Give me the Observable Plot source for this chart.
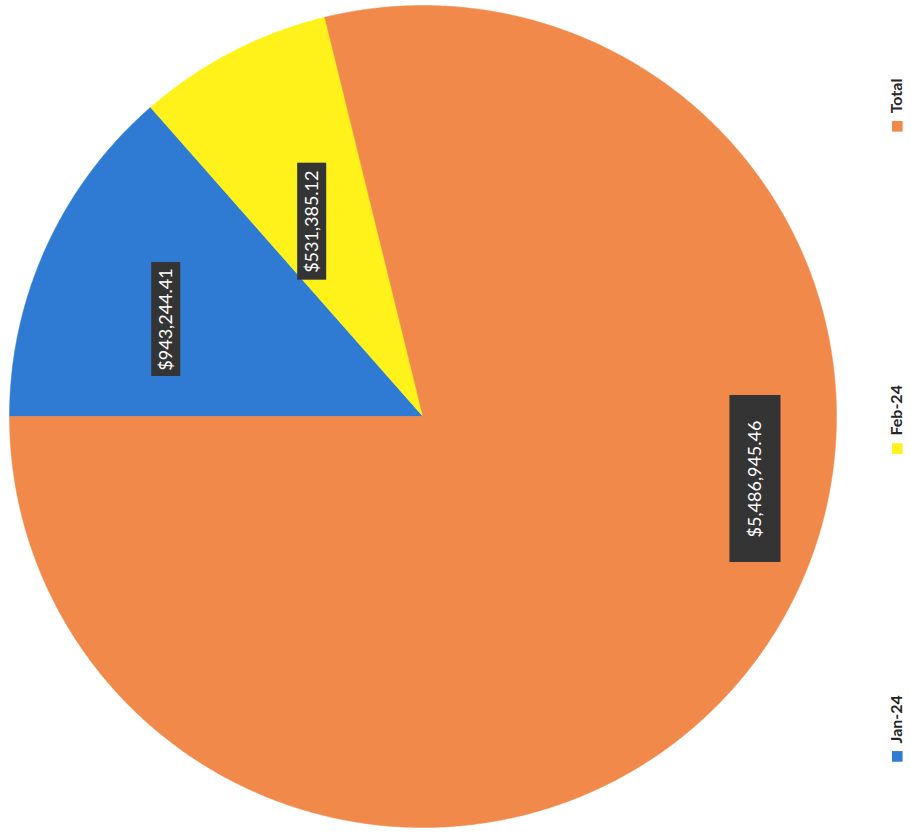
<!DOCTYPE html>
<html>
<head>
<meta charset="utf-8">
<script src="https://cdn.jsdelivr.net/npm/d3@7"></script>
<script src="https://cdn.jsdelivr.net/npm/@observablehq/plot@0.6"></script>
<style>
  html, body { margin: 0; padding: 0; background: #ffffff; }
  #chart { width: 911px; height: 837px; }
</style>
</head>
<body>
<div id="chart"></div>
<script>
// ---- data ----
const categories = ["Jan-24", "Feb-24", "Total"];
const values = [943244.41, 531385.12, 5486945.46];
const labels = ["$943,244.41", "$531,385.12", "$5,486,945.46"];
const colors = ["#2f7bd3", "#fff21a", "#f0894a"];

// ---- layout (page is scanned rotated 90° counter-clockwise) ----
const labelAt = [[-0.621, 0.236], [-0.268, 0.474], [0.804, -0.152]];
const labelBox = [[29, 114], [29, 117], [51, 167]]; // px width, height
const legendAt = [[1.147, -0.827], [1.147, -0.078], [1.147, 0.706]];
const pxX = 413, pxY = 411; // px per unit

const arcs = d3.pie().sort(null).value(d => d)(values);
const slices = [];
arcs.forEach((a, i) => {
  const pts = [{x: 0, y: 0, k: categories[i]}];
  const n = Math.max(2, Math.ceil((a.endAngle - a.startAngle) / 0.005));
  for (let j = 0; j <= n; j++) {
    const t = a.startAngle + (a.endAngle - a.startAngle) * j / n;
    pts.push({x: -Math.cos(t), y: Math.sin(t), k: categories[i]});
  }
  pts.push({x: 0, y: 0, k: categories[i]});
  slices.push(pts);
});

const lbl = categories.map((c, i) => ({
  c, text: labels[i], x: labelAt[i][0], y: labelAt[i][1],
  x1: labelAt[i][0] - labelBox[i][0] / 2 / pxX, x2: labelAt[i][0] + labelBox[i][0] / 2 / pxX,
  y1: labelAt[i][1] - labelBox[i][1] / 2 / pxY, y2: labelAt[i][1] + labelBox[i][1] / 2 / pxY
}));
const leg = categories.map((c, i) => ({c, color: colors[i], x: legendAt[i][0], y: legendAt[i][1], ty: legendAt[i][1] + 13 / pxY}));

const plot = Plot.plot({
  width: 911,
  height: 837,
  margin: 0,
  style: {background: "#ffffff", fontFamily: "Lato, sans-serif"},
  x: {domain: [-1, 1], range: [9, 836], axis: null},
  y: {domain: [-1, 1], range: [827, 5], axis: null},
  marks: [
    ...slices.map((pts, i) => Plot.line(pts, {x: "x", y: "y", fill: colors[i], stroke: colors[i], strokeWidth: 0.5, curve: "linear"})),
    Plot.rect(lbl, {x1: "x1", x2: "x2", y1: "y1", y2: "y2", fill: "#343434"}),
    Plot.text(lbl, {x: "x", y: "y", text: "text", rotate: -90, fill: "#ffffff", fontSize: 18}),
    Plot.dot(leg, {x: "x", y: "y", symbol: "square", r: 6, fill: "color", stroke: null}),
    Plot.text(leg, {x: "x", y: "ty", text: "c", rotate: -90, textAnchor: "start", fill: "#262626", fontSize: 16, fontWeight: "bold"})
  ]
});
document.getElementById("chart").appendChild(plot);
</script>
</body>
</html>
